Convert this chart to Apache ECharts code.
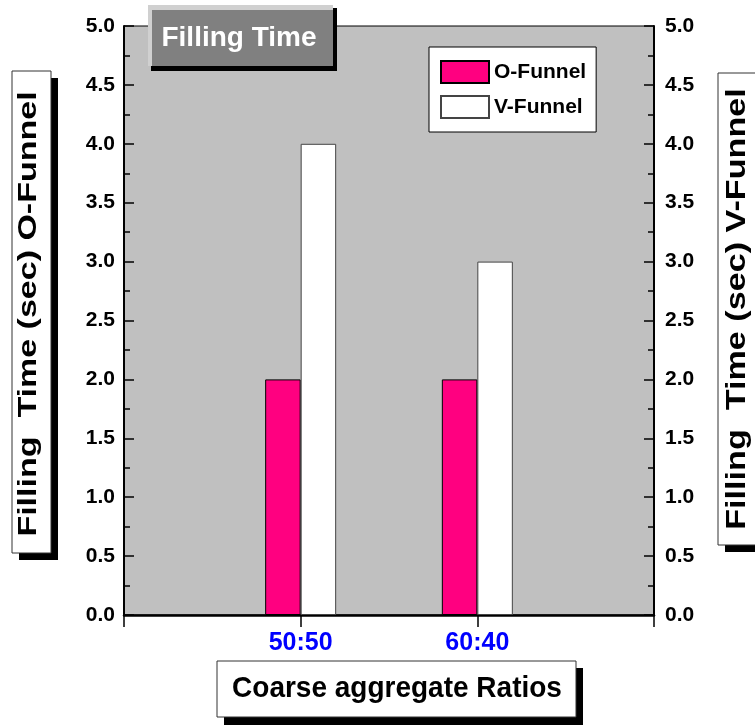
<!DOCTYPE html>
<html>
<head>
<meta charset="utf-8">
<script src="https://cdn.jsdelivr.net/npm/echarts@6/dist/echarts.min.js"></script>
<style>html,body{margin:0;padding:0;background:#fff}#c{width:755px;height:725px}</style>
</head>
<body>
<div id="c"></div>
<script>
const categories = ['50:50', '60:40'];
const seriesNames = ['O-Funnel', 'V-Funnel'];
const oFunnel = [2.0, 2.0];
const vFunnel = [4.0, 3.0];
const yMin = 0, yMax = 5, yInterval = 0.5;
const titleText = 'Filling Time';
const xName = 'Coarse aggregate Ratios';
const yNameLeft = 'Filling  Time (sec) O-Funnel';
const yNameRight = 'Filling  Time (sec) V-Funnel';

const FF = "'Liberation Sans', Arial, sans-serif";
const axisCats = [''].concat(categories, ['']);
const pad = arr => [null].concat(arr, [null]);

function yAxisCfg(pos, margin) {
  return {
    type: 'value', position: pos, min: yMin, max: yMax, interval: yInterval,
    axisLine: { show: true, lineStyle: { color: '#000', width: 2 } },
    axisTick: { show: true, inside: true, length: 10, lineStyle: { color: '#000', width: 1.5 } },
    minorTick: { show: true, splitNumber: 2, length: 6, lineStyle: { color: '#000', width: 1.5 } },
    splitLine: { show: false },
    axisLabel: { margin: margin, color: '#000', fontFamily: FF, fontWeight: 'bold', fontSize: 21,
      formatter: v => v.toFixed(1) }
  };
}

const chart = echarts.init(document.getElementById('c'), null, { renderer: 'canvas' });
chart.setOption({
  animation: false,
  backgroundColor: '#fff',
  grid: { left: 124, right: 101, top: 26, bottom: 110, show: true,
    backgroundColor: '#c0c0c0', borderColor: '#000', borderWidth: 1 },
  legend: {
    data: seriesNames, orient: 'vertical', left: 429, top: 47,
    padding: [13, 10, 13, 11], itemGap: 11, itemWidth: 48, itemHeight: 22,
    backgroundColor: '#fff', borderColor: '#000', borderWidth: 1,
    icon: 'rect',
    textStyle: { color: '#000', fontFamily: FF, fontWeight: 'bold', fontSize: 21 }
  },
  xAxis: {
    type: 'category', data: axisCats, boundaryGap: false,
    axisLine: { show: true, lineStyle: { color: '#000', width: 2.5 } },
    axisTick: { show: true, inside: false, length: 12, alignWithLabel: false, interval: 0,
      lineStyle: { color: '#000', width: 1.5 } },
    axisLabel: { interval: 0, margin: 16, color: '#0000ff', fontFamily: FF, fontWeight: 'bold', fontSize: 25 },
    splitLine: { show: false }
  },
  yAxis: [yAxisCfg('left', 9), yAxisCfg('right', 11)],
  series: [
    { name: seriesNames[0], type: 'bar', data: pad(oFunnel), barWidth: 35.5, barGap: '0%',
      itemStyle: { color: '#ff0080', borderColor: '#000', borderWidth: 1 } },
    { name: seriesNames[1], type: 'bar', data: pad(vFunnel), barWidth: 35.5, barGap: '0%',
      itemStyle: { color: '#ffffff', borderColor: '#444', borderWidth: 1 } }
  ],
  graphic: [
    // title box
    { type: 'rect', z: 100, shape: { x: 151, y: 8, width: 186, height: 63 }, style: { fill: '#000' } },
    { type: 'rect', z: 101, shape: { x: 148, y: 5, width: 185, height: 61 }, style: { fill: '#d0d0d0' } },
    { type: 'rect', z: 102, shape: { x: 152, y: 10, width: 181, height: 56 }, style: { fill: '#808080' } },
    { type: 'text', z: 103, x: 239, y: 38, style: { text: titleText, fill: '#fff',
      font: "bold 28px " + FF, align: 'center', verticalAlign: 'middle' } },
    // x axis name box
    { type: 'rect', z: 100, shape: { x: 224, y: 668, width: 359, height: 57 }, style: { fill: '#000' } },
    { type: 'rect', z: 101, shape: { x: 217, y: 661, width: 359, height: 56 }, style: { fill: '#fff', stroke: '#333', lineWidth: 1 } },
    { type: 'text', z: 102, x: 397, y: 689, scaleY: 1.08, style: { text: xName, fill: '#000',
      font: "bold 28px " + FF, align: 'center', verticalAlign: 'middle' } },
    // left y name box
    { type: 'rect', z: 100, shape: { x: 19, y: 78, width: 39, height: 482 }, style: { fill: '#000' } },
    { type: 'rect', z: 101, shape: { x: 12, y: 71, width: 39, height: 482 }, style: { fill: '#fff', stroke: '#333', lineWidth: 1 } },
    { type: 'text', z: 102, x: 29, y: 314, rotation: Math.PI / 2, scaleX: 1.36, style: { text: yNameLeft, fill: '#000',
      font: "bold 25px " + FF, align: 'center', verticalAlign: 'middle' } },
    // right y name box
    { type: 'rect', z: 100, shape: { x: 725, y: 80, width: 45, height: 472 }, style: { fill: '#000' } },
    { type: 'rect', z: 101, shape: { x: 718, y: 73, width: 45, height: 472 }, style: { fill: '#fff', stroke: '#333', lineWidth: 1 } },
    { type: 'text', z: 102, x: 737, y: 309, rotation: Math.PI / 2, scaleX: 1.22, style: { text: yNameRight, fill: '#000',
      font: "bold 28px " + FF, align: 'center', verticalAlign: 'middle' } }
  ]
});
</script>
</body>
</html>
